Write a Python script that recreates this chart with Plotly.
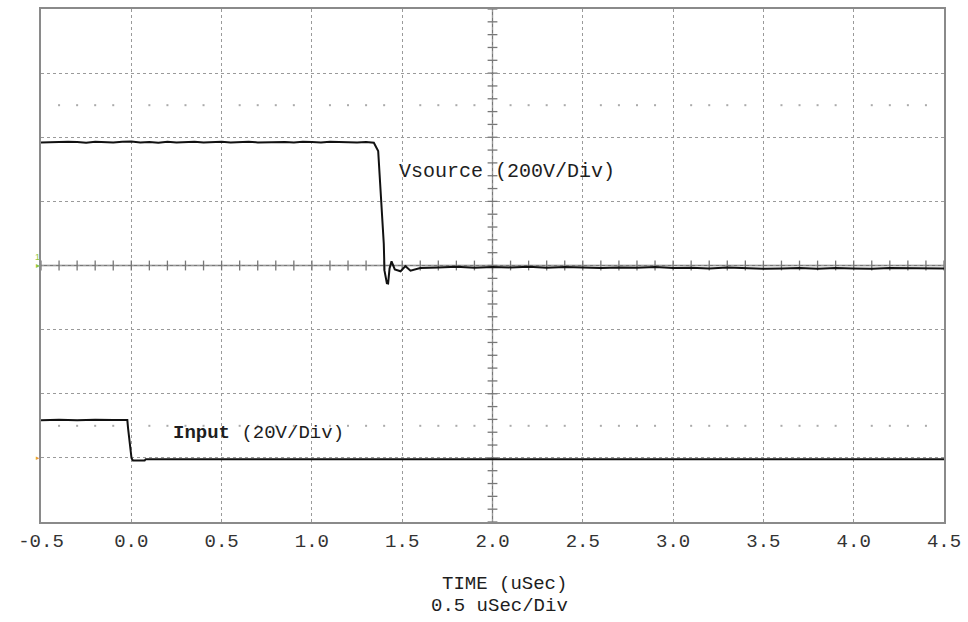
import plotly.graph_objects as go

# ---- data (time in uSec, volts) ----
vs_scale = 200.0   # V/div
in_scale = 20.0    # V/div
in_offset = -3.0   # div

t_vs = [-0.5, -0.45, -0.4, -0.35, -0.3, -0.25, -0.2, -0.15, -0.1, -0.05, 0.0, 0.05, 0.1, 0.15,
        0.2, 0.25, 0.3, 0.35, 0.4, 0.45, 0.5, 0.55, 0.6, 0.65, 0.7, 0.75, 0.8, 0.85, 0.9, 0.95,
        1.0, 1.05, 1.1, 1.15, 1.2, 1.25, 1.3, 1.343, 1.367, 1.380, 1.389, 1.398, 1.402, 1.408,
        1.415, 1.422, 1.430, 1.441, 1.459, 1.491, 1.518, 1.546, 1.6, 1.7, 1.8, 1.9, 2.0, 2.1,
        2.2, 2.3, 2.4, 2.5, 2.6, 2.7, 2.8, 2.9, 3.0, 3.1, 3.2, 3.3, 3.4, 3.5, 3.6, 3.7, 3.8,
        3.9, 4.0, 4.1, 4.2, 4.3, 4.4, 4.5]
v_vs = [384, 385, 384, 386, 385, 383, 386, 385, 384, 386, 387, 384, 385, 383, 386, 384, 385, 386,
        384, 385, 386, 384, 385, 386, 384, 385, 386, 385, 384, 386, 385, 384, 386, 385, 386, 384,
        385, 383, 357, 242, 149, 68, -16, -37, -55, -56, -9, 13, -12, -18, -2, -16, -8, -6, -4,
        -7, -5, -6, -4, -7, -5, -6, -8, -6, -7, -5, -8, -7, -9, -6, -8, -10, -9, -8, -10, -8,
        -9, -10, -8, -9, -10, -9]

t_in = [-0.5, -0.4, -0.3, -0.2, -0.1, -0.022, -0.018, -0.009, 0.001, 0.009, 0.074, 0.08, 1.0, 2.0, 3.0, 4.0, 4.5]
v_in = [11.7, 11.9, 11.7, 11.9, 11.8, 11.8, 9.3, 4.7, 0.0, -0.8, -0.8, -0.4, -0.4, -0.4, -0.4, -0.4, -0.4]

x_tick_vals = [-0.5, 0.0, 0.5, 1.0, 1.5, 2.0, 2.5, 3.0, 3.5, 4.0, 4.5]
x_tick_text = ["-0.5", "0.0", "0.5", "1.0", "1.5", "2.0", "2.5", "3.0", "3.5", "4.0", "4.5"]

# graticule minor positions (divisions / time)
minor_t = [round(-0.5 + 0.1 * k, 2) for k in range(51)]
minor_d = [round(-4 + 0.2 * k, 2) for k in range(41)]
dot_t = [t for t in minor_t if abs(round(t / 0.5) * 0.5 - t) > 1e-6]

mono = "Liberation Mono, Courier New, monospace"
grid_col = "#9a9a9a"
txt_col = "#1e1e1e"

fig = go.Figure()

# center-axis minor ticks
fig.add_trace(go.Scatter(x=minor_t, y=[0] * len(minor_t), mode="markers",
                         marker=dict(symbol="line-ns", size=7, line=dict(color="#777", width=1.3)),
                         hoverinfo="skip", showlegend=False))
fig.add_trace(go.Scatter(x=[2.0] * len(minor_d), y=minor_d, mode="markers",
                         marker=dict(symbol="line-ew", size=7, line=dict(color="#777", width=1.3)),
                         hoverinfo="skip", showlegend=False))
# dotted rows at +/-2.5 div
for row in (2.5, -2.5):
    fig.add_trace(go.Scatter(x=dot_t, y=[row] * len(dot_t), mode="markers",
                             marker=dict(symbol="square", size=2, color="#aaa"),
                             hoverinfo="skip", showlegend=False))

# waveforms (converted to divisions)
fig.add_trace(go.Scatter(x=t_vs, y=[v / vs_scale for v in v_vs], mode="lines",
                         line=dict(color="#111", width=2), name="Vsource", showlegend=False))
fig.add_trace(go.Scatter(x=t_in, y=[v / in_scale + in_offset for v in v_in], mode="lines",
                         line=dict(color="#111", width=2), name="Input", showlegend=False))

# solid center lines
fig.add_shape(type="line", xref="x", yref="y", x0=-0.5, x1=4.5, y0=0, y1=0,
              line=dict(color="#777", width=1.3), layer="below")
fig.add_shape(type="line", xref="x", yref="y", x0=2.0, x1=2.0, y0=-4, y1=4,
              line=dict(color="#777", width=1.3), layer="below")

fig.add_annotation(x=1.47, y=1.46, xref="x", yref="y", text="Vsource (200V/Div)", showarrow=False,
                   xanchor="left", yanchor="middle", font=dict(family=mono, size=20, color=txt_col))
fig.add_annotation(x=0.22, y=-2.61, xref="x", yref="y",
                   text="<b>Input</b> (20V/Div)", showarrow=False,
                   xanchor="left", yanchor="middle", font=dict(family=mono, size=19, color=txt_col))

fig.add_annotation(x=0.513, y=-62 / 515, xref="paper", yref="paper", text="TIME (uSec)", showarrow=False,
                   xanchor="center", yanchor="middle", font=dict(family=mono, size=19, color=txt_col))
fig.add_annotation(x=0.508, y=-84 / 515, xref="paper", yref="paper", text="0.5 uSec/Div", showarrow=False,
                   xanchor="center", yanchor="middle", font=dict(family=mono, size=19, color=txt_col))

# channel markers on the left edge
fig.add_annotation(x=0, y=0.13, xref="paper", yref="y", text="1", showarrow=False, xanchor="right",
                   yanchor="middle", xshift=1, font=dict(family="Liberation Sans", size=9, color="#8cc63f"))
fig.add_annotation(x=0, y=0.0, xref="paper", yref="y", text="▸", showarrow=False, xanchor="right",
                   yanchor="middle", xshift=1, font=dict(family="DejaVu Sans", size=8, color="#8cc63f"))
fig.add_annotation(x=0, y=-3.0, xref="paper", yref="y", text="▸", showarrow=False, xanchor="right",
                   yanchor="middle", xshift=1, font=dict(family="DejaVu Sans", size=7, color="#e8a030"))

fig.update_layout(
    width=968, height=622,
    margin=dict(l=41, r=21, t=7, b=100),
    paper_bgcolor="white", plot_bgcolor="white",
    xaxis=dict(range=[-0.5, 4.5], tickvals=x_tick_vals, ticktext=x_tick_text,
               showgrid=True, gridcolor=grid_col, gridwidth=1, griddash="dot",
               zeroline=False, showline=True, linecolor="#8a8a8a", linewidth=2, mirror=True,
               ticks="", tickfont=dict(family=mono, size=19, color="#333"), fixedrange=True),
    yaxis=dict(range=[-4, 4], dtick=1, tick0=0, showticklabels=False,
               showgrid=True, gridcolor=grid_col, gridwidth=1, griddash="dot",
               zeroline=False, showline=True, linecolor="#8a8a8a", linewidth=2, mirror=True,
               ticks="", fixedrange=True),
)

fig.write_html("out.html", config={"displayModeBar": False},
               post_script="document.body.style.margin='0px';")
